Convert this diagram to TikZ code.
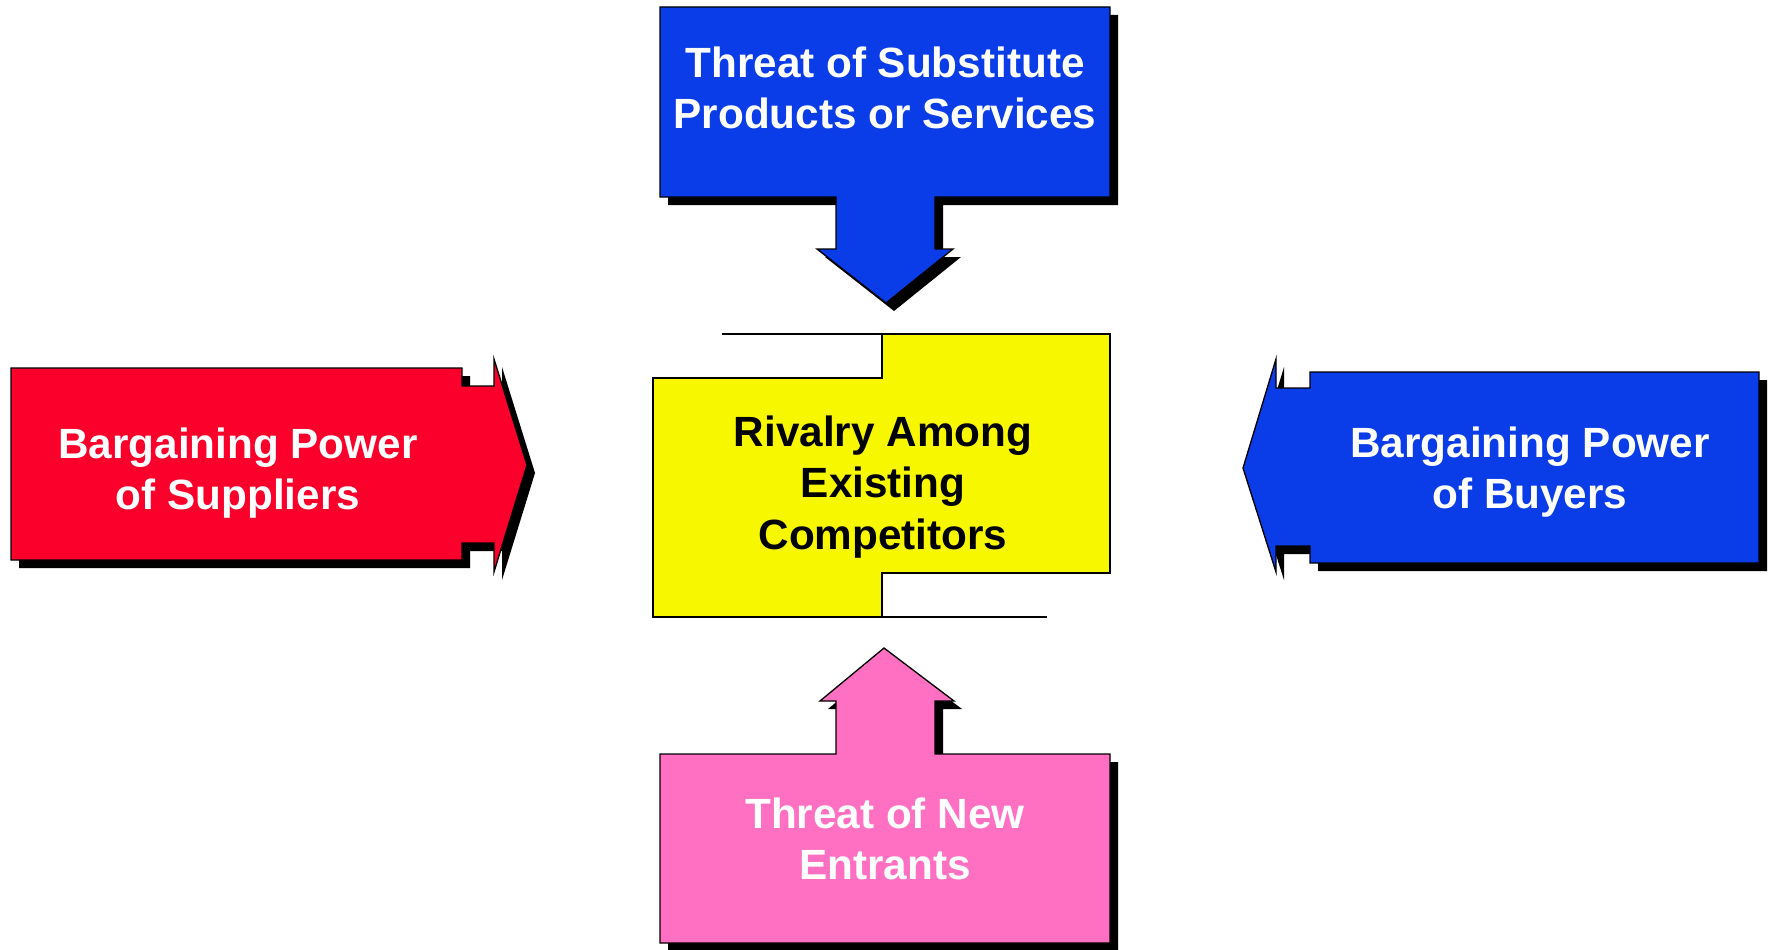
\documentclass[tikz,border=0pt]{standalone}
\usepackage{fontspec}
\setmainfont{Liberation Sans}
\usepackage{xcolor}
\definecolor{ForceBlue}{rgb}{0.04, 0.24, 0.91}
\definecolor{ForceRed}{rgb}{0.98, 0.0, 0.17}
\definecolor{ForcePink}{rgb}{1.0, 0.44, 0.76}
\definecolor{ForceYellow}{rgb}{0.97, 0.97, 0.0}

\tikzset{
  forceline/.style={draw=black, line width=1pt, line join=miter},
  forcetext/.style={font=\bfseries\fontsize{31.7}{38.3}\selectfont, text=white, align=center, anchor=north, inner sep=0pt}
}
% shadowed block arrow: #1 fill colour, #2 outline points
\newcommand{\forceshape}[2]{%
  \fill [black, shift={(8,8)}] #2 -- cycle;
  \filldraw [forceline, fill=#1] #2 -- cycle;}

\begin{document}
\begin{tikzpicture}[x=0.75pt,y=0.75pt,yscale=-1,xscale=1]
\useasboundingbox (0,0) rectangle (1769,949);

%Shape: Down Arrow [substitutes]
\forceshape{ForceBlue}{(660,7) -- (1110,7) -- (1110,197) -- (935,197) -- (935,249) -- (953,249) -- (886,303) -- (817,249) -- (836,249) -- (836,197) -- (660,197)}
%Shape: Right Arrow [suppliers]
\forceshape{ForceRed}{(11,368) -- (462,368) -- (462,386) -- (494,386) -- (494,359) -- (527,465) -- (494,572) -- (494,543) -- (462,543) -- (462,560) -- (11,560)}
%Shape: Left Arrow [buyers]
\forceshape{ForceBlue}{(1759,372) -- (1310,372) -- (1310,388) -- (1276,388) -- (1276,359) -- (1243,468) -- (1276,572) -- (1276,546) -- (1310,546) -- (1310,563) -- (1759,563)}
%Shape: Up Arrow [entrants]
\forceshape{ForcePink}{(660,754) -- (836,754) -- (836,701) -- (820,701) -- (884,648) -- (954,701) -- (935,701) -- (935,754) -- (1110,754) -- (1110,943) -- (660,943)}

%Shape: Stepped Box [rivalry]
\filldraw [forceline, fill=ForceYellow] (653,378) -- (882,378) -- (882,334) -- (1110,334) -- (1110,573) -- (882,573) -- (882,617) -- (653,617) -- cycle ;
%Straight Lines
\draw [forceline] (722,334) -- (882,334) ;
\draw [forceline] (882,617) -- (1047,617) ;

% Text Node
\node (substitutes) at (885,47) [forcetext] {Threat of Substitute\\Products or Services};
% Text Node
\node (rivalry) at (883,416) [forcetext, text=black] {Rivalry Among\\Existing\\Competitors};
% Text Node
\node (suppliers) at (238,428) [forcetext] {Bargaining Power\\of Suppliers};
% Text Node
\node (buyers) at (1530,427) [forcetext] {Bargaining Power\\of Buyers};
% Text Node
\node (entrants) at (885,798) [forcetext] {Threat of New\\Entrants};

\end{tikzpicture}
\end{document}
